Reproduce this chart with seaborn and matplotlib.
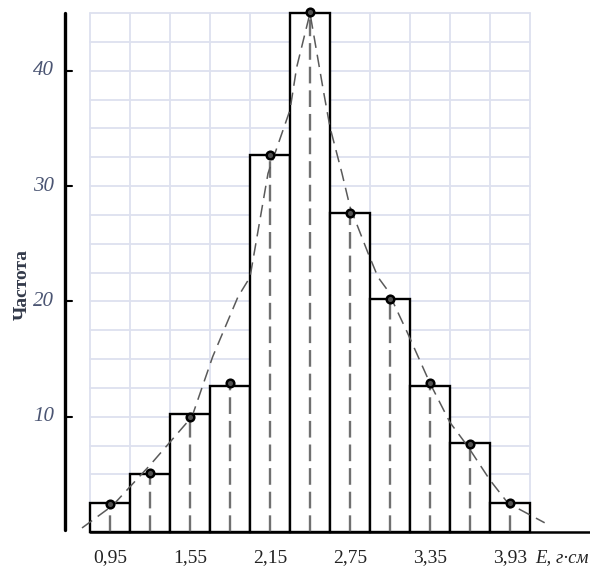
import numpy as np
import pandas as pd
import seaborn as sns
import matplotlib.pyplot as plt

# Histogram data (bin centres and frequencies)
centers = [0.95, 1.25, 1.55, 1.85, 2.15, 2.45, 2.75, 3.05, 3.35, 3.65, 3.95]
freq = [2.5, 5.0, 10.2, 12.7, 32.7, 45.0, 27.7, 20.2, 12.7, 7.7, 2.5]
# observed points (dots on top of the bars)
dots = [2.4, 5.1, 10.0, 12.9, 32.7, 45.1, 27.7, 20.2, 12.9, 7.6, 2.5]
# theoretical curve (dashed), read point by point
curve_x = [0.74, 0.97, 1.25, 1.565, 1.72, 1.91, 2.0, 2.135, 2.30, 2.35, 2.45,
           2.55, 2.6, 2.69, 2.75, 2.885, 2.96, 3.03, 3.18, 3.35, 3.5, 3.635,
           3.8, 3.935, 4.21]
curve_y = [0.35, 2.3, 5.8, 10.0, 15.2, 20.4, 22.1, 31.1, 36.6, 40.3, 45.0,
           38.3, 35.1, 31.1, 28.2, 24.2, 22.1, 21.0, 17.3, 12.9, 9.5, 7.4,
           4.5, 2.5, 0.8]
tick_pos = [0.95, 1.55, 2.15, 2.75, 3.35, 3.95]
tick_labels = ['0,95', '1,55', '2,15', '2,75', '3,35', '3,93']
ytick_vals = [10, 20, 30, 40]

df = pd.DataFrame({'E': centers, 'freq': freq})

sns.set_style('white')
plt.rcParams['font.family'] = ['Liberation Serif', 'DejaVu Serif']
plt.rcParams['lines.scale_dashes'] = False

fig = plt.figure(figsize=(5.9, 5.73), dpi=100)
ax = fig.add_axes([0, 0, 1, 1])

bw = 0.3
x0 = centers[0] - bw / 2
x1 = centers[-1] + bw / 2

# light grid behind the bars
for gx in np.arange(x0, x1 + 0.01, bw):
    ax.plot([gx, gx], [0, 45], color='#dde1ef', lw=1.3, zorder=0)
for gy in np.arange(2.5, 45.01, 2.5):
    ax.plot([x0, x1], [gy, gy], color='#dde1ef', lw=1.3, zorder=0)

sns.barplot(data=df, x='E', y='freq', native_scale=True, width=1,
            color='white', edgecolor='black', linewidth=1.7, saturation=1,
            errorbar=None, ax=ax, zorder=2)

# vertical dashed lines to the dots
ax.vlines(centers, 0, dots, colors='#707070', lw=1.7,
          linestyles=[(0, (12, 5))], zorder=3)

# theoretical curve
sns.lineplot(x=curve_x, y=curve_y, color='#5a5a5a', lw=1.1,
             linestyle=(0, (9, 5)), ax=ax, zorder=4)

# observed points
sns.scatterplot(x=centers, y=dots, s=30, color='#505050', edgecolor='black',
                linewidth=1.8, ax=ax, zorder=5)

# axes drawn by hand
ax.plot([0.6125, 0.6125], [0.2, 45.0], color='black', lw=2.4, zorder=6)
ax.plot([x0, 4.6], [0, 0], color='black', lw=1.8, zorder=6)
for v in ytick_vals:
    ax.plot([0.6125, 0.665], [v, v], color='black', lw=1.5, zorder=6)
    ax.text(0.53, v, str(v), ha='right', va='center', fontsize=15,
            style='italic', color='#4b5573')

for p, lab in zip(tick_pos, tick_labels):
    ax.text(p, -2.2, lab, ha='center', va='center', fontsize=14, color='#222222')
ax.text(4.14, -2.2, 'E, г·см', ha='left', va='center', fontsize=13.5,
        style='italic', color='#222222')
ax.text(0.29, 21.5, 'Частота', ha='center', va='center', rotation=90,
        fontsize=14, fontweight='bold', color='#333a4a')

ax.set_xlim(0.125, 4.55)
ax.set_ylim(-3.556, 46.14)
ax.axis('off')

fig.savefig('out.png', dpi=100)
